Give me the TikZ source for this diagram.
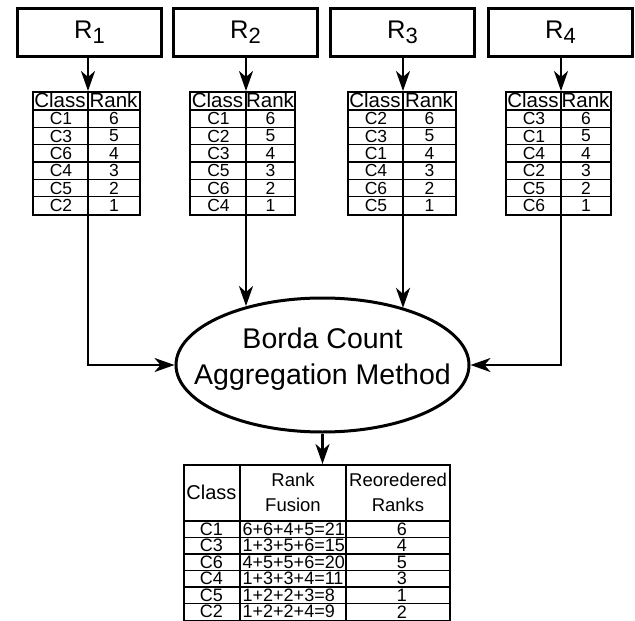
\documentclass[tikz,border=0pt]{standalone}
\usepackage{fontspec}
\setmainfont{Liberation Sans}
\usetikzlibrary{shapes.geometric,arrows.meta}
\tikzset{
  rbox/.style={draw, line width=3pt, minimum width=144pt, minimum height=48pt, inner sep=0pt,
    anchor=north west, font=\fontsize{25.5}{25.5}\selectfont},
  gridline/.style={line width=1.6pt},
  tabbox/.style={draw, line width=1.7pt, inner sep=0pt, anchor=north west},
  arr/.style={line width=2.5pt, -{Stealth[length=20pt,width=14pt,inset=6pt]}},
  hd/.style={inner sep=0pt, font=\fontsize{20.5}{20.5}\selectfont},
  cell/.style={inner sep=0pt, font=\fontsize{17.5}{17.5}\selectfont},
  bhd/.style={inner sep=0pt, align=center, font=\fontsize{18.5}{25}\selectfont},
  bcell/.style={inner sep=0pt, font=\fontsize{18}{18}\selectfont},
  aggbox/.style={draw, ellipse, line width=3pt, minimum width=293pt, minimum height=134pt, inner sep=0pt},
  aggtxt/.style={inner sep=0pt, align=center, font=\fontsize{28.5}{36}\selectfont}
}
\newcommand\rtab[5]{%
  \node[tabbox, minimum width={#4-#2}, minimum height=123] (#1) at (#2,91) {};
  \coordinate (#1top) at (#3,91);
  \coordinate (#1bot) at (#3,214);
  \draw[gridline] (#1top) -- (#1bot);
  \draw[gridline] (#2,110) -- (#4,110);
  \foreach \kk in {1,...,5} \draw[gridline] (#2,{110+\kk*17.333}) -- (#4,{110+\kk*17.333});
  \node[hd] (#1hc) at ({(#2+#3)/2},100.5) {Class};
  \node[hd] (#1hr) at ({(#3+#4)/2},100.5) {Rank};
  \foreach \cl/\rk [count=\ii] in {#5} {
    \node[cell] (#1c\ii) at ({(#2+#3)/2+1},{110+(\ii-0.5)*17.333}) {\cl};
    \node[cell] (#1r\ii) at ({(#3+#4)/2+0.5},{110+(\ii-0.5)*17.333}) {\rk};
  }
}
\newcommand\subn[1]{\raisebox{-5pt}{\fontsize{22}{22}\selectfont #1}}
\begin{document}
\begin{tikzpicture}[x=1pt,y=-1pt]
\useasboundingbox (0,0) rectangle (635,621);
% top boxes
\node[rbox] (r1) at (16,7) {R\subn{1}};
\node[rbox] (r2) at (172,7) {R\subn{2}};
\node[rbox] (r3) at (329,7) {R\subn{3}};
\node[rbox] (r4) at (487,7) {R\subn{4}};
% rank tables
\rtab{t1}{32}{88}{139}{C1/6,C3/5,C6/4,C4/3,C5/2,C2/1}
\rtab{t2}{189}{246}{294}{C1/6,C2/5,C3/4,C5/3,C6/2,C4/1}
\rtab{t3}{347}{403}{455}{C2/6,C3/5,C1/4,C4/3,C6/2,C5/1}
\rtab{t4}{505}{561}{610}{C3/6,C1/5,C4/4,C2/3,C5/2,C6/1}
% aggregation ellipse
\node[aggbox] (agg) at (322.5,365) {};
\node[aggtxt] (aggt) at (322.5,359.5) {Borda Count\\Aggregation Method};
% fusion table
\node[tabbox, minimum width=266, minimum height=156] (ft) at (183,464) {};
\draw[gridline] (240,464) -- (240,620);
\draw[gridline] (346,464) -- (346,620);
\draw[gridline] (183,521) -- (449,521);
\foreach \kk in {1,...,5} \draw[gridline] (183,{521+\kk*16.5}) -- (449,{521+\kk*16.5});
\node[bhd, font=\fontsize{20}{20}\selectfont] (fh1) at (211.5,492.5) {Class};
\node[bhd] (fh2) at (293,492.8) {Rank\\Fusion};
\node[bhd] (fh3) at (398,492.8) {Reoredered\\Ranks};
\foreach \cl/\fu/\rk [count=\ii] in {C1/6+6+4+5=21/6, C3/1+3+5+6=15/4, C6/4+5+5+6=20/5, C4/1+3+3+4=11/3, C5/1+2+2+3=8/1, C2/1+2+2+4=9/2} {
  \node[bcell] (fc\ii) at (211.5,{521+(\ii-0.5)*16.5}) {\cl};
  \node[bcell, anchor=west] (ff\ii) at (242.5,{521+(\ii-0.5)*16.5}) {\fu};
  \node[bcell] (fr\ii) at (402,{521+(\ii-0.5)*16.5}) {\rk};
}
% connectors
\draw[arr] (r1.south -| t1top) -- (t1top);
\draw[arr] (r2.south -| t2top) -- (t2top);
\draw[arr] (r3.south -| t3top) -- (t3top);
\draw[arr] (r4.south -| t4top) -- (t4top);
\draw[arr] (t1bot) |- (agg.west);
\draw[arr] (t2bot) -- (t2bot |- agg.142.5);
\draw[arr] (t3bot) -- (t3bot |- agg.35.5);
\draw[arr] (t4bot) |- (agg.east);
\draw[arr] (agg.south) -- (agg.south |- ft.north);
\end{tikzpicture}
\end{document}
